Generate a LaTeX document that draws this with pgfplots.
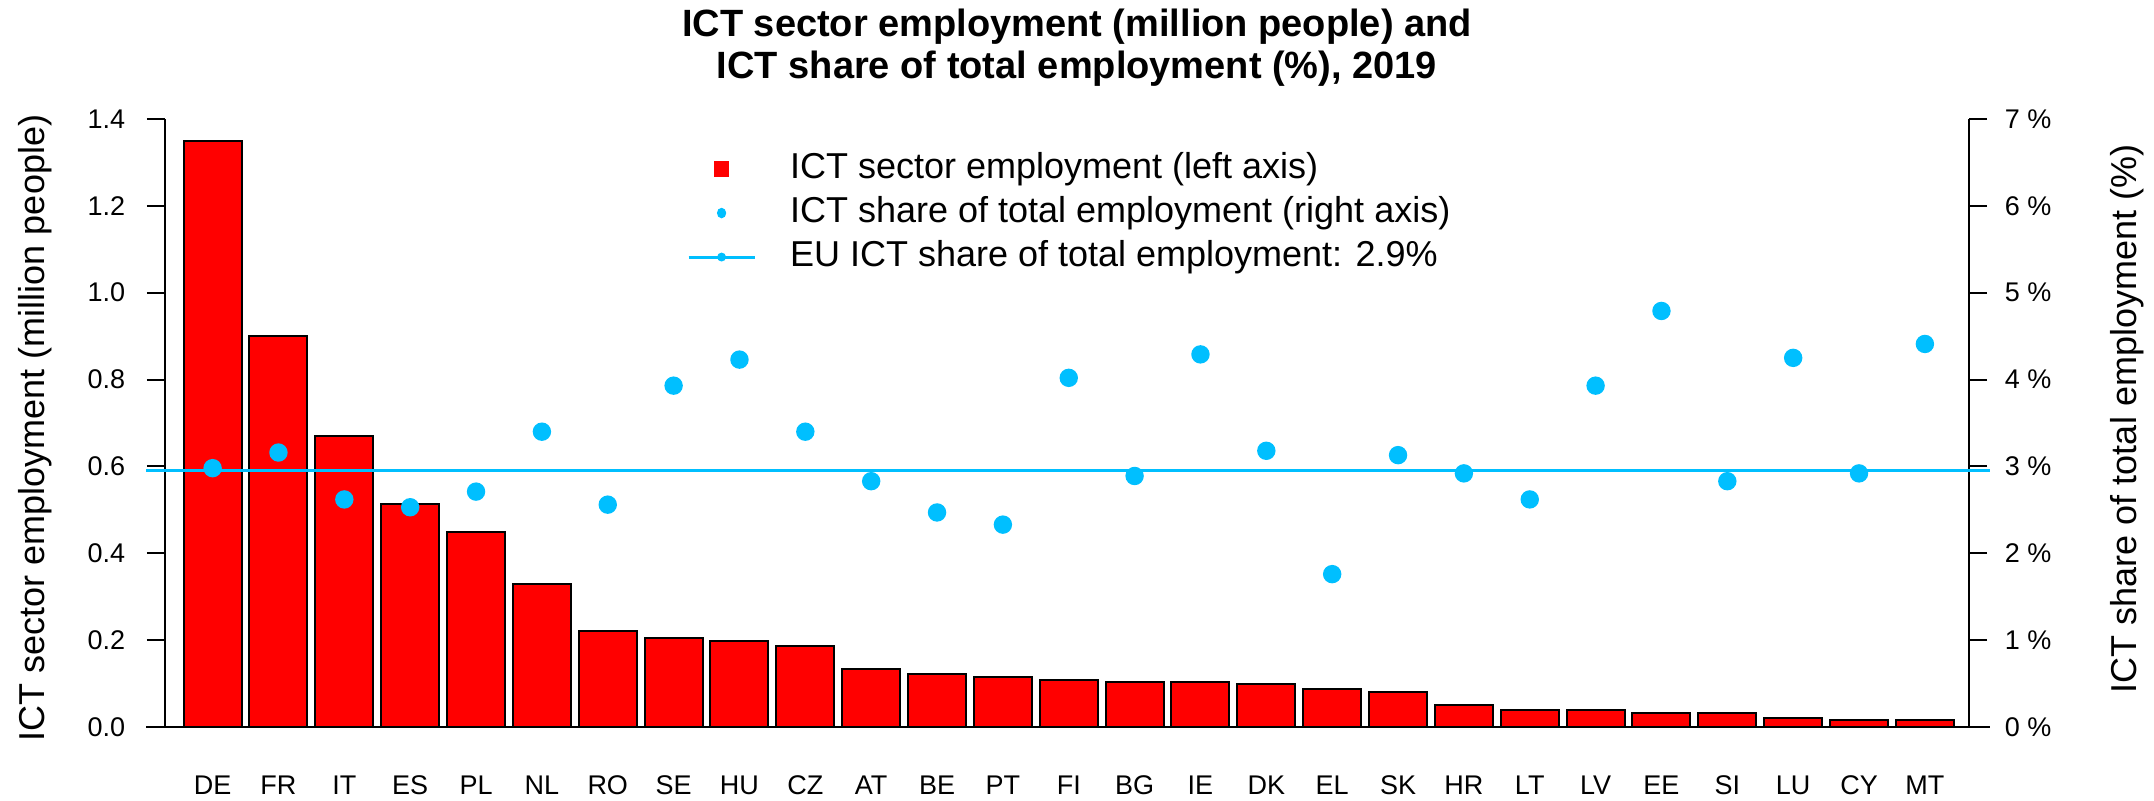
\documentclass[border=0pt]{standalone}
\usepackage{pgfplots}
\pgfplotsset{compat=1.18}
\usepackage{pgfplotstable}
\usepackage{fontspec}
\setmainfont{Liberation Sans}
\definecolor{ictblue}{RGB}{0,191,255}

\pgfplotstableread{
x c emp share
0 DE 1.35 2.98
1 FR 0.90 3.16
2 IT 0.67 2.62
3 ES 0.514 2.53
4 PL 0.449 2.71
5 NL 0.330 3.40
6 RO 0.222 2.56
7 SE 0.204 3.93
8 HU 0.199 4.23
9 CZ 0.186 3.40
10 AT 0.133 2.83
11 BE 0.121 2.47
12 PT 0.116 2.33
13 FI 0.108 4.02
14 BG 0.104 2.89
15 IE 0.104 4.29
16 DK 0.098 3.18
17 EL 0.0865 1.76
18 SK 0.080 3.13
19 HR 0.050 2.92
20 LT 0.039 2.62
21 LV 0.039 3.93
22 EE 0.032 4.79
23 SI 0.032 2.83
24 LU 0.020 4.25
25 CY 0.015 2.92
26 MT 0.015 4.41
}\data

\pgfplotsset{common/.style={
  at={(41.25pt,18.5pt)}, anchor=south west, scale only axis,
  width=451pt, height=152pt, xmin=-0.723, xmax=26.67, clip=false,
  tick align=outside, major tick length=4.5pt,
  every tick/.style={black, line width=0.5pt},
  axis line style={black, line width=0.6pt},
  tick label style={font=\fontsize{6.75}{8}\selectfont},
}}

\begin{document}
\begin{tikzpicture}[x=1pt,y=1pt]
\useasboundingbox (0,0) rectangle (538.5,200.25);
\node[font=\fontsize{9.5}{10.5}\selectfont\bfseries, align=center] at (269.25,188.25)
  {ICT sector employment (million people) and\\ICT share of total employment (\%), 2019};

\begin{axis}[common,
  ymin=0, ymax=1.4,
  axis y line*=left, axis x line*=bottom,
  ytick={0,0.2,0.4,0.6,0.8,1.0,1.2,1.4},
  yticklabels={0.0,0.2,0.4,0.6,0.8,1.0,1.2,1.4},
  yticklabel style={anchor=east, inner sep=0pt, xshift=-5.25pt},
  xtick={0,...,26},
  xticklabels={DE,FR,IT,ES,PL,NL,RO,SE,HU,CZ,AT,BE,PT,FI,BG,IE,DK,EL,SK,HR,LT,LV,EE,SI,LU,CY,MT},
  xtick style={draw=none},
  xticklabel style={anchor=center, inner sep=0pt, yshift=-10pt},
  ylabel={ICT sector employment (million people)},
  every axis y label/.style={at={(axis description cs:-0.0721,0.4918)}, rotate=90, anchor=center, font=\fontsize{9}{10.8}\selectfont},
]
\addplot[ybar, bar width=0.88, fill=red, draw=black, line width=0.5pt] table[x=x,y=emp]{\data};
\addplot[black, line width=0.6pt] coordinates {(-1.011,0) (26.99,0)};
\end{axis}

\begin{axis}[common,
  ymin=0, ymax=7,
  axis y line*=right, axis x line=none,
  ytick={0,1,2,3,4,5,6,7},
  yticklabels={0 \%,1 \%,2 \%,3 \%,4 \%,5 \%,6 \%,7 \%},
  yticklabel style={anchor=west, inner sep=0pt, xshift=4.25pt},
  ylabel={ICT share of total employment (\%)},
  every axis y label/.style={at={(axis description cs:1.0876,0.5066)}, rotate=90, anchor=center, font=\fontsize{9}{10.8}\selectfont},
  legend style={at={(axis description cs:0.2894,0.945)}, anchor=north west, draw=none, fill=none,
    inner sep=0pt, outer sep=0pt, row sep=2.7pt, column sep=8.5pt,
    font=\fontsize{9}{10.8}\selectfont,
    nodes={inner sep=0pt, text height=6.5pt, text depth=1.8pt}},
  legend cell align=left,
]
\addlegendimage{legend image code/.code={\path[draw=none,fill=none] (0pt,-1pt) rectangle (16.5pt,1pt); \fill[red] (6.6pt,-1.9pt) rectangle (9.9pt,1.9pt);}}
\addlegendentry{ICT sector employment (left axis)}
\addlegendimage{legend image code/.code={\path[draw=none,fill=none] (0pt,-1pt) rectangle (16.5pt,1pt); \fill[ictblue] (8.25pt,0pt) ellipse (0.95pt and 1.1pt);}}
\addlegendentry{ICT share of total employment (right axis)}
\addlegendimage{legend image code/.code={\path[draw=none,fill=none] (0pt,-1pt) rectangle (16.5pt,1pt); \draw[ictblue, line width=0.75pt] (0pt,0pt) -- (16.5pt,0pt); \fill[ictblue] (8.25pt,0pt) circle (0.9pt);}}
\addlegendentry{EU ICT share of total employment: 2.9\%}
\addplot[ictblue, line width=0.75pt, forget plot] coordinates {(-1.011,2.95) (26.99,2.95)};
\addplot[only marks, mark=*, mark size=2.1pt, mark options={draw=ictblue, fill=ictblue}, forget plot] table[x=x,y=share]{\data};
\end{axis}
\end{tikzpicture}
\end{document}
